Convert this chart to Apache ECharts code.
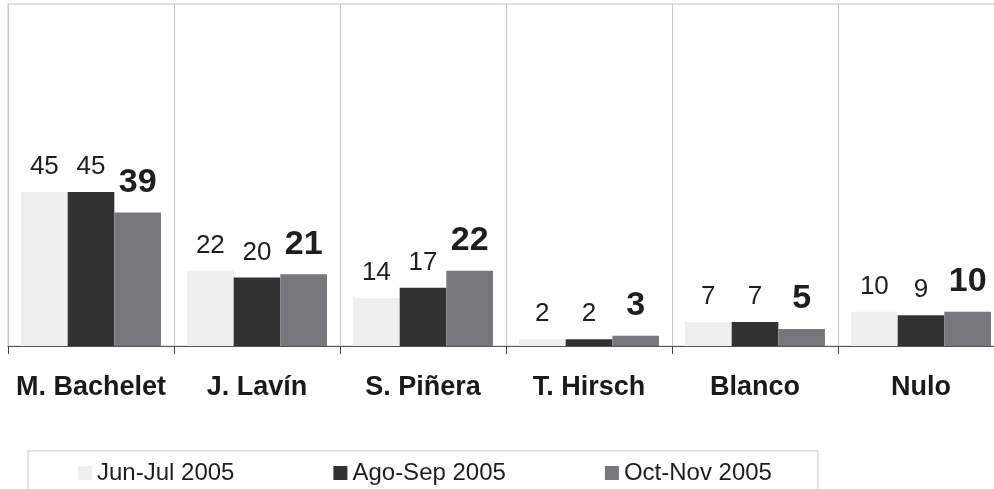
<!DOCTYPE html>
<html>
<head>
<meta charset="utf-8">
<script src="https://cdn.jsdelivr.net/npm/echarts@6/dist/echarts.min.js"></script>
<style>
  html, body { margin: 0; padding: 0; background: #fff; }
  #chart { width: 994px; height: 489px; }
</style>
</head>
<body>
<div id="chart"></div>
<script>
// Candidate poll, three survey waves (percent)
const candidates = ["M. Bachelet", "J. Lavín", "S. Piñera", "T. Hirsch", "Blanco", "Nulo"];
const waves = ["Jun-Jul 2005", "Ago-Sep 2005", "Oct-Nov 2005"];
const junJul = [45, 22, 14, 2, 7, 10];
const agoSep = [45, 20, 17, 2, 7, 9];
const octNov = [39, 21, 22, 3, 5, 10];

const FONT = "'Liberation Sans', Arial, sans-serif";
const colors = ["#efefef", "#323232", "#78787c"];

const chart = echarts.init(document.getElementById("chart"));

// regular value labels for the older waves, bigger bold ones for the latest
const plainLabel = { show: true, position: "top", distance: 12, color: "#1e1e1e",
  fontFamily: FONT, fontSize: 26 };
const boldLabel = { show: true, position: "top", distance: 13, color: "#1e1e1e",
  fontFamily: FONT, fontSize: 34, fontWeight: "bold" };

const mkSeries = (name, data, color, label) => ({
  name, type: "bar", data, barGap: 0, barCategoryGap: "15.7%",
  itemStyle: { color }, label, emphasis: { disabled: true },
});

chart.setOption({
  animation: false,
  backgroundColor: "#fff",
  color: colors,
  // the last category runs past the right edge of the picture
  grid: { left: 8, width: 996, top: 4, bottom: 143, outerBoundsMode: "none",
    containLabel: false, show: true, borderColor: "#c4c4c4", borderWidth: 1 },
  legend: {
    data: waves, left: 28, top: 451, orient: "horizontal",
    padding: [10, 46, 30, 50], itemGap: 99, itemWidth: 14, itemHeight: 14,
    borderColor: "#c8c8c8", borderWidth: 1,
    icon: "rect",
    textStyle: { fontFamily: FONT, fontSize: 24, color: "#1e1e1e" },
  },
  xAxis: {
    type: "category", data: candidates,
    axisLine: { lineStyle: { color: "#555", width: 1 } },
    axisTick: { show: true, interval: 0, length: 8, lineStyle: { color: "#444" } },
    splitLine: { show: true, interval: 0, lineStyle: { color: "#c4c4c4", width: 1 } },
    axisLabel: { interval: 0, color: "#1a1a1a", fontFamily: FONT, fontSize: 27,
      fontWeight: "bold", margin: 28 },
  },
  yAxis: { type: "value", min: 0, max: 100, show: false, splitLine: { show: false } },
  series: [
    mkSeries(waves[0], junJul, colors[0], plainLabel),
    mkSeries(waves[1], agoSep, colors[1], plainLabel),
    mkSeries(waves[2], octNov, colors[2], boldLabel),
  ],
});
</script>
</body>
</html>
